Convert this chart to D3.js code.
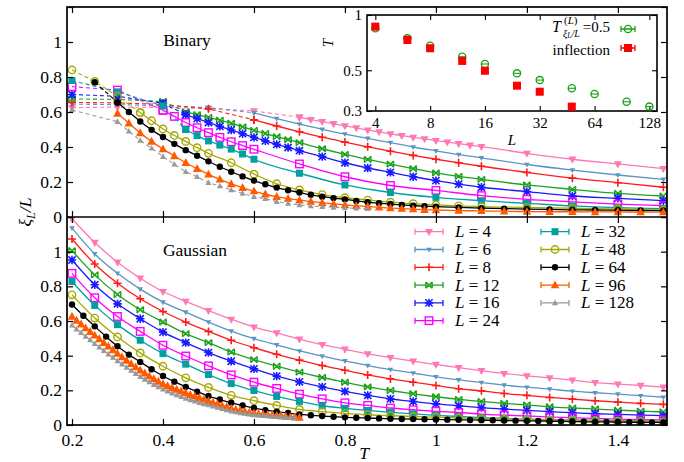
<!DOCTYPE html>
<html><head><meta charset="utf-8">
<script src="https://cdn.jsdelivr.net/npm/d3@7"></script>
<style>
body{margin:0;background:#fff}
svg, svg text, svg tspan{font-family:'Liberation Serif','Times New Roman',Times,serif}
</style>
</head><body>
<svg id="chart" width="684" height="462"></svg>
<script>
// ---------------- data ----------------
const sizes = [4, 6, 8, 12, 16, 24, 32, 48, 64, 96, 128];
const seriesColors = ["#ff78b4", "#5a96c3", "#ff1a1a", "#1fa31f", "#1a1aff", "#ff00ff", "#00a0a0", "#a8a800", "#000000", "#ff5a00", "#999999"];
const seriesMarkers = ["tdown", "tdownS", "plus", "cross", "star", "sqOpen", "sq", "ciOpen", "ci", "tup", "tupS"];

const xTicks = [0.2, 0.4, 0.6, 0.8, 1, 1.2, 1.4];
const yTicks = [0, 0.2, 0.4, 0.6, 0.8, 1, 1.2];

// Binary couplings: dashed (low T) part and solid part for each L
const binDashT_4 = [0.2, 0.3, 0.4, 0.5, 0.6, 0.7];
const binDashV_4 = [0.625, 0.628, 0.626, 0.62, 0.606, 0.57];
const binT_4 = [0.7, 0.725, 0.75, 0.775, 0.8, 0.825, 0.85, 0.875, 0.9, 0.925, 0.95, 0.975, 1.0, 1.025, 1.05, 1.075, 1.1, 1.2, 1.3, 1.4, 1.5];
const binV_4 = [0.57, 0.557, 0.545, 0.533, 0.521, 0.509, 0.497, 0.486, 0.475, 0.465, 0.455, 0.446, 0.437, 0.428, 0.419, 0.41, 0.402, 0.364, 0.33, 0.303, 0.276];

const binDashT_6 = [0.2, 0.3, 0.4, 0.5, 0.6];
const binDashV_6 = [0.645, 0.642, 0.636, 0.625, 0.595];
const binT_6 = [0.6, 0.65, 0.7, 0.75, 0.8, 0.85, 0.9, 0.95, 1.0, 1.05, 1.1, 1.2, 1.3, 1.4, 1.5];
const binV_6 = [0.595, 0.562, 0.531, 0.501, 0.474, 0.449, 0.425, 0.40, 0.378, 0.357, 0.338, 0.30, 0.268, 0.24, 0.215];

const binDashT_8 = [0.2, 0.3, 0.4, 0.5, 0.6];
const binDashV_8 = [0.655, 0.652, 0.643, 0.618, 0.555];
const binT_8 = [0.6, 0.65, 0.7, 0.75, 0.8, 0.85, 0.9, 0.95, 1.0, 1.05, 1.1, 1.2, 1.3, 1.4, 1.5];
const binV_8 = [0.555, 0.52, 0.487, 0.456, 0.428, 0.401, 0.376, 0.352, 0.33, 0.31, 0.29, 0.255, 0.222, 0.196, 0.17];

const binDashT_12 = [0.2, 0.3, 0.4, 0.45];
const binDashV_12 = [0.675, 0.672, 0.66, 0.60];
const binT_12 = [0.45, 0.475, 0.5, 0.525, 0.55, 0.575, 0.6, 0.625, 0.65, 0.675, 0.7, 0.75, 0.8, 0.85, 0.9, 0.95, 1.0, 1.05, 1.1, 1.2, 1.3, 1.4, 1.5];
const binV_12 = [0.60, 0.585, 0.569, 0.553, 0.536, 0.515, 0.495, 0.477, 0.459, 0.442, 0.425, 0.39, 0.358, 0.329, 0.302, 0.276, 0.252, 0.232, 0.215, 0.183, 0.158, 0.135, 0.12];

const binDashT_16 = [0.2, 0.3, 0.4, 0.45];
const binDashV_16 = [0.70, 0.69, 0.65, 0.585];
const binT_16 = [0.45, 0.475, 0.5, 0.525, 0.55, 0.575, 0.6, 0.625, 0.65, 0.675, 0.7, 0.75, 0.8, 0.85, 0.9, 0.95, 1.0, 1.05, 1.1, 1.2, 1.3, 1.4, 1.5];
const binV_16 = [0.585, 0.562, 0.54, 0.518, 0.497, 0.476, 0.455, 0.435, 0.415, 0.397, 0.379, 0.345, 0.31, 0.28, 0.255, 0.23, 0.208, 0.188, 0.17, 0.145, 0.12, 0.107, 0.093];

const binDashT_24 = [0.2, 0.3, 0.4];
const binDashV_24 = [0.745, 0.725, 0.61];
const binT_24 = [0.4, 0.425, 0.45, 0.475, 0.5, 0.525, 0.55, 0.575, 0.6, 0.7, 0.8, 0.9, 1.0, 1.1, 1.2, 1.3, 1.4, 1.5];
const binV_24 = [0.61, 0.575, 0.54, 0.51, 0.482, 0.455, 0.43, 0.408, 0.387, 0.303, 0.23, 0.18, 0.152, 0.122, 0.101, 0.087, 0.074, 0.065];

const binDashT_32 = [0.2, 0.3, 0.4, 0.45];
const binDashV_32 = [0.78, 0.715, 0.635, 0.50];
const binT_32 = [0.45, 0.475, 0.5, 0.525, 0.55, 0.575, 0.6, 0.7, 0.8, 0.9, 1.0, 1.1, 1.2, 1.3, 1.4, 1.5];
const binV_32 = [0.50, 0.465, 0.435, 0.411, 0.388, 0.36, 0.33, 0.25, 0.183, 0.14, 0.112, 0.093, 0.078, 0.063, 0.053, 0.048];

const binDashT_48 = [0.2, 0.25, 0.3, 0.35];
const binDashV_48 = [0.84, 0.775, 0.69, 0.596];
const binT_48 = [0.35, 0.375, 0.4, 0.425, 0.45, 0.475, 0.5, 0.55, 0.6, 0.65, 0.7, 0.75, 0.8, 0.85, 0.9, 0.95, 1.0, 1.05, 1.1, 1.2, 1.3, 1.4, 1.5];
const binV_48 = [0.596, 0.55, 0.503, 0.466, 0.432, 0.396, 0.364, 0.31, 0.245, 0.19, 0.155, 0.128, 0.11, 0.097, 0.085, 0.076, 0.069, 0.064, 0.059, 0.055, 0.05, 0.046, 0.04];

const binDashT_64 = [0.25, 0.3];
const binDashV_64 = [0.77, 0.655];
const binT_64 = [0.3, 0.325, 0.35, 0.375, 0.4, 0.425, 0.45, 0.475, 0.5, 0.525, 0.55, 0.575, 0.6, 0.625, 0.65, 0.675, 0.7, 0.725, 0.75, 0.775, 0.8, 0.825, 0.85, 0.875, 0.9, 0.925, 0.95, 0.975, 1.0, 1.05, 1.1, 1.15, 1.2, 1.25, 1.3, 1.35, 1.4, 1.45, 1.5];
const binV_64 = [0.655, 0.6, 0.546, 0.498, 0.457, 0.418, 0.382, 0.35, 0.318, 0.287, 0.259, 0.232, 0.208, 0.187, 0.168, 0.153, 0.14, 0.127, 0.116, 0.108, 0.101, 0.092, 0.084, 0.079, 0.074, 0.069, 0.065, 0.062, 0.059, 0.055, 0.051, 0.048, 0.045, 0.043, 0.041, 0.04, 0.039, 0.037, 0.036];

const binDashT_96 = [];
const binDashV_96 = [];
const binT_96 = [0.3, 0.325, 0.35, 0.375, 0.4, 0.425, 0.45, 0.475, 0.5, 0.525, 0.55, 0.575, 0.6, 0.625, 0.65, 0.675, 0.7, 0.725, 0.75, 0.775, 0.8, 0.825, 0.85, 0.875, 0.9, 0.925, 0.95, 0.975, 1.0, 1.05, 1.1, 1.15, 1.2, 1.25, 1.3, 1.35, 1.4, 1.45, 1.5];
const binV_96 = [0.592, 0.536, 0.48, 0.432, 0.388, 0.349, 0.31, 0.276, 0.244, 0.215, 0.189, 0.167, 0.148, 0.13, 0.116, 0.105, 0.096, 0.089, 0.082, 0.075, 0.069, 0.064, 0.06, 0.055, 0.051, 0.048, 0.045, 0.042, 0.04, 0.037, 0.035, 0.033, 0.031, 0.03, 0.03, 0.029, 0.029, 0.028, 0.028];

const binDashT_128 = [0.2, 0.3, 0.325, 0.35, 0.375, 0.4, 0.425, 0.45, 0.475, 0.5, 0.525, 0.55, 0.575, 0.6, 0.625, 0.65, 0.675, 0.7, 0.725, 0.75, 0.775, 0.8, 0.825, 0.85];
const binDashV_128 = [0.611, 0.545, 0.49, 0.437, 0.393, 0.345, 0.301, 0.259, 0.23, 0.196, 0.177, 0.154, 0.135, 0.116, 0.105, 0.088, 0.078, 0.069, 0.063, 0.059, 0.055, 0.052, 0.05, 0.048];
const binT_128 = [];
const binV_128 = [];

// Gaussian couplings
const gaussT = [0.2, 0.25, 0.3, 0.35, 0.4, 0.45, 0.5, 0.55, 0.6, 0.65, 0.7, 0.75, 0.8, 0.85, 0.9, 0.95, 1.0, 1.05, 1.1, 1.15, 1.2, 1.25, 1.3, 1.35, 1.4, 1.45, 1.5];
const gaussT_64 = [0.2, 0.225, 0.25, 0.275, 0.3, 0.325, 0.35, 0.375, 0.4, 0.425, 0.45, 0.475, 0.5, 0.525, 0.55, 0.575, 0.6, 0.625, 0.65, 0.675, 0.7, 0.725, 0.75, 0.775, 0.8, 0.825, 0.85, 0.875, 0.9, 0.925, 0.95, 0.975, 1.0, 1.025, 1.05, 1.075, 1.1, 1.125, 1.15, 1.175, 1.2, 1.225, 1.25, 1.275, 1.3, 1.325, 1.35, 1.375, 1.4, 1.425, 1.45, 1.475, 1.5];
const gaussT_fine = [0.20, 0.21, 0.22, 0.23, 0.24, 0.25, 0.26, 0.27, 0.28, 0.29, 0.30, 0.31, 0.32, 0.33, 0.34, 0.35, 0.36, 0.37, 0.38, 0.39, 0.40, 0.41, 0.42, 0.43, 0.44, 0.45, 0.46, 0.47, 0.48, 0.49, 0.50, 0.51, 0.52, 0.53, 0.54, 0.55, 0.56, 0.57, 0.58, 0.59, 0.60, 0.61, 0.62, 0.63, 0.64, 0.65, 0.66, 0.67, 0.68, 0.69, 0.70];

const gaussV_4 = [1.19, 1.053, 0.939, 0.847, 0.770, 0.713, 0.66, 0.61, 0.565, 0.531, 0.496, 0.464, 0.437, 0.41, 0.389, 0.368, 0.349, 0.331, 0.314, 0.297, 0.284, 0.272, 0.259, 0.245, 0.236, 0.228, 0.218];
const gaussV_6 = [1.136, 0.987, 0.875, 0.784, 0.709, 0.651, 0.594, 0.542, 0.498, 0.462, 0.427, 0.397, 0.37, 0.343, 0.32, 0.30, 0.278, 0.26, 0.245, 0.23, 0.218, 0.207, 0.195, 0.186, 0.178, 0.169, 0.16];
const gaussV_8 = [1.073, 0.929, 0.818, 0.728, 0.655, 0.594, 0.54, 0.489, 0.446, 0.408, 0.374, 0.343, 0.316, 0.289, 0.266, 0.247, 0.228, 0.209, 0.197, 0.182, 0.171, 0.159, 0.149, 0.14, 0.132, 0.125, 0.119];
const gaussV_12 = [1.006, 0.866, 0.753, 0.665, 0.594, 0.527, 0.475, 0.421, 0.377, 0.339, 0.305, 0.274, 0.247, 0.22, 0.199, 0.18, 0.163, 0.148, 0.136, 0.125, 0.115, 0.105, 0.098, 0.092, 0.086, 0.08, 0.075];
const gaussV_16 = [0.952, 0.809, 0.699, 0.613, 0.536, 0.475, 0.418, 0.368, 0.324, 0.282, 0.249, 0.22, 0.194, 0.171, 0.151, 0.136, 0.122, 0.111, 0.10, 0.092, 0.084, 0.077, 0.071, 0.065, 0.061, 0.057, 0.054];
const gaussV_24 = [0.875, 0.734, 0.626, 0.54, 0.46, 0.398, 0.341, 0.289, 0.247, 0.211, 0.178, 0.151, 0.128, 0.113, 0.098, 0.088, 0.079, 0.072, 0.063, 0.057, 0.052, 0.046, 0.042, 0.038, 0.034, 0.031, 0.029];
const gaussV_32 = [0.828, 0.69, 0.579, 0.489, 0.412, 0.351, 0.291, 0.239, 0.199, 0.165, 0.136, 0.111, 0.096, 0.084, 0.073, 0.064, 0.056, 0.049, 0.043, 0.038, 0.034, 0.031, 0.029, 0.027, 0.025, 0.023, 0.021];
const gaussV_48 = [0.751, 0.617, 0.508, 0.416, 0.339, 0.272, 0.217, 0.171, 0.14, 0.113, 0.09, 0.077, 0.067, 0.059, 0.054, 0.049, 0.045, 0.041, 0.037, 0.034, 0.031, 0.029, 0.027, 0.025, 0.023, 0.021, 0.02];
const gaussV_64 = [0.695, 0.63, 0.569, 0.51, 0.454, 0.406, 0.364, 0.322, 0.283, 0.25, 0.22, 0.192, 0.167, 0.147, 0.128, 0.113, 0.098, 0.086, 0.077, 0.069, 0.061, 0.056, 0.052, 0.048, 0.044, 0.042, 0.04, 0.038, 0.036, 0.035, 0.034, 0.033, 0.032, 0.031, 0.03, 0.029, 0.028, 0.027, 0.026, 0.025, 0.024, 0.023, 0.022, 0.021, 0.02, 0.019, 0.018, 0.018, 0.017, 0.016, 0.016, 0.015, 0.015];
const gaussV_96 = [0.626, 0.603, 0.581, 0.559, 0.538, 0.517, 0.496, 0.475, 0.454, 0.433, 0.412, 0.392, 0.372, 0.353, 0.334, 0.316, 0.299, 0.282, 0.266, 0.251, 0.237, 0.226, 0.215, 0.205, 0.195, 0.185, 0.175, 0.166, 0.157, 0.148, 0.139, 0.130, 0.121, 0.112, 0.104, 0.096, 0.090, 0.084, 0.078, 0.072, 0.068, 0.065, 0.062, 0.059, 0.056, 0.054, 0.052, 0.049, 0.047, 0.045, 0.043];
const gaussV_128 = [0.575, 0.553, 0.532, 0.511, 0.490, 0.469, 0.449, 0.429, 0.409, 0.389, 0.370, 0.351, 0.332, 0.314, 0.296, 0.279, 0.263, 0.248, 0.233, 0.219, 0.206, 0.195, 0.184, 0.173, 0.163, 0.153, 0.145, 0.137, 0.129, 0.122, 0.115, 0.108, 0.101, 0.094, 0.087, 0.080, 0.075, 0.070, 0.066, 0.062, 0.058, 0.056, 0.054, 0.052, 0.050, 0.048, 0.046, 0.044, 0.042, 0.040];

// Inset: characteristic temperatures vs L
const insetL = [4, 6, 8, 12, 16, 24, 32, 48, 64, 96, 128];
const insetHalfT = [0.846, 0.746, 0.68, 0.593, 0.541, 0.481, 0.442, 0.399, 0.371, 0.337, 0.317];
const insetInflL = [4, 6, 8, 12, 16, 24, 32, 48];
const insetInflT = [0.864, 0.731, 0.659, 0.562, 0.497, 0.412, 0.382, 0.317];
const insetXTicks = [4, 8, 16, 32, 64, 128];
const insetYTicks = [0.3, 0.5, 1];

// ---------------- drawing ----------------
const svg = d3.select("#chart");
const FONT = 17.5;
const SERIF = "'Liberation Serif', 'Times New Roman', serif";

const x = d3.scaleLinear().domain([0.189, 1.508]).range([67, 667]);
const yTop = d3.scaleLinear().domain([0, 1.2]).range([217, 7]);
const yBot = d3.scaleLinear().domain([0, 1.2]).range([425, 217]);

const defs = svg.append("defs");
defs.append("clipPath").attr("id", "clipTop").append("rect").attr("x", 67).attr("y", 7).attr("width", 600).attr("height", 210);
defs.append("clipPath").attr("id", "clipBot").append("rect").attr("x", 67).attr("y", 217).attr("width", 600).attr("height", 208);

function tri(px, py, s, down) {
  const a = down ? -0.33 : 0.38, b = down ? 0.55 : -0.55;
  return `M${px - s / 2},${py + s * a}L${px + s / 2},${py + s * a}L${px},${py + s * b}Z`;
}
function drawMarker(g, type, px, py, color) {
  switch (type) {
    case "tdown": g.append("path").attr("d", tri(px, py, 8, true)).attr("fill", color); break;
    case "tdownS": g.append("path").attr("d", tri(px, py, 5.5, true)).attr("fill", color); break;
    case "tup": g.append("path").attr("d", tri(px, py, 8.5, false)).attr("fill", color); break;
    case "tupS": g.append("path").attr("d", tri(px, py, 6, false)).attr("fill", color); break;
    case "plus": {
      const r = 4;
      g.append("path").attr("d", `M${px - r},${py}H${px + r}M${px},${py - r}V${py + r}`).attr("stroke", color).attr("stroke-width", 1.6).attr("fill", "none");
      break;
    }
    case "cross": {
      const r = 3.2;
      g.append("path").attr("d", `M${px - r},${py - r}L${px + r},${py + r}M${px - r},${py + r}L${px + r},${py - r}M${px - r},${py - r}V${py + r}M${px + r},${py - r}V${py + r}`).attr("stroke", color).attr("stroke-width", 1.4).attr("fill", "none");
      break;
    }
    case "star": {
      const r = 3.6;
      g.append("path").attr("d", `M${px - r},${py - r}L${px + r},${py + r}M${px - r},${py + r}L${px + r},${py - r}M${px - r - 0.6},${py}H${px + r + 0.6}M${px},${py - r - 0.6}V${py + r + 0.6}`).attr("stroke", color).attr("stroke-width", 1.6).attr("fill", "none");
      break;
    }
    case "sqOpen": {
      const s = 7.5;
      g.append("rect").attr("x", px - s / 2).attr("y", py - s / 2).attr("width", s).attr("height", s).attr("fill", "none").attr("stroke", color).attr("stroke-width", 1.4);
      break;
    }
    case "sq": {
      const s = 7;
      g.append("rect").attr("x", px - s / 2).attr("y", py - s / 2).attr("width", s).attr("height", s).attr("fill", color);
      break;
    }
    case "ciOpen":
      g.append("circle").attr("cx", px).attr("cy", py).attr("r", 3.7).attr("fill", "none").attr("stroke", color).attr("stroke-width", 1.4);
      break;
    case "ci":
      g.append("circle").attr("cx", px).attr("cy", py).attr("r", 3.2).attr("fill", color);
      break;
  }
}

function drawSeries(g, T, V, yScale, color, marker, dashed) {
  if (!T.length) return;
  const pts = T.map((t, i) => [t, V[i]]);
  const line = d3.line().x(d => x(d[0])).y(d => yScale(d[1])).curve(dashed ? d3.curveLinear : d3.curveMonotoneX);
  g.append("path").attr("d", line(pts)).attr("fill", "none").attr("stroke", color)
    .attr("stroke-width", dashed ? 1.1 : 1.3).attr("stroke-dasharray", dashed ? "4,3" : null);
  pts.forEach(p => drawMarker(g, marker, x(p[0]), yScale(p[1]), color));
}

// Binary panel
const gTop = svg.append("g").attr("clip-path", "url(#clipTop)");
const binSets = [
  [binDashT_4, binDashV_4, binT_4, binV_4],
  [binDashT_6, binDashV_6, binT_6, binV_6],
  [binDashT_8, binDashV_8, binT_8, binV_8],
  [binDashT_12, binDashV_12, binT_12, binV_12],
  [binDashT_16, binDashV_16, binT_16, binV_16],
  [binDashT_24, binDashV_24, binT_24, binV_24],
  [binDashT_32, binDashV_32, binT_32, binV_32],
  [binDashT_48, binDashV_48, binT_48, binV_48],
  [binDashT_64, binDashV_64, binT_64, binV_64],
  [binDashT_96, binDashV_96, binT_96, binV_96],
  [binDashT_128, binDashV_128, binT_128, binV_128]
];
binSets.forEach((s, i) => {
  const g = gTop.append("g");
  drawSeries(g, s[0], s[1], yTop, seriesColors[i], seriesMarkers[i], true);
  drawSeries(g, s[2], s[3], yTop, seriesColors[i], seriesMarkers[i], false);
});

// Gaussian panel
const gBot = svg.append("g").attr("clip-path", "url(#clipBot)");
const gaussSets = [
  [gaussT, gaussV_4], [gaussT, gaussV_6], [gaussT, gaussV_8], [gaussT, gaussV_12],
  [gaussT, gaussV_16], [gaussT, gaussV_24], [gaussT, gaussV_32], [gaussT, gaussV_48],
  [gaussT_64, gaussV_64], [gaussT_fine, gaussV_96], [gaussT_fine.slice(0, gaussV_128.length), gaussV_128]
];
gaussSets.forEach((s, i) => {
  drawSeries(gBot.append("g"), s[0], s[1], yBot, seriesColors[i], seriesMarkers[i], false);
});

// Axes and frame
function styleAxis(g) {
  g.select(".domain").remove();
  g.attr("font-family", SERIF).attr("font-size", FONT);
  g.selectAll("line").attr("stroke", "#000").attr("stroke-width", 1.2);
  g.selectAll("text").attr("fill", "#000").attr("font-family", SERIF);
}
const fmt = v => String(+v.toFixed(1));
svg.append("g").attr("transform", "translate(67,0)")
  .call(d3.axisLeft(yTop).tickValues(yTicks).tickSize(-6).tickPadding(5).tickFormat(v => v === 1.2 ? "" : fmt(v))).call(styleAxis);
svg.append("g").attr("transform", "translate(67,0)")
  .call(d3.axisLeft(yBot).tickValues(yTicks).tickSize(-6).tickPadding(5).tickFormat(v => v >= 1.2 ? "" : fmt(v))).call(styleAxis);
svg.append("g").attr("transform", "translate(667,0)")
  .call(d3.axisRight(yTop).tickValues(yTicks).tickSize(-6).tickFormat("")).call(styleAxis);
svg.append("g").attr("transform", "translate(667,0)")
  .call(d3.axisRight(yBot).tickValues(yTicks).tickSize(-6).tickFormat("")).call(styleAxis);
svg.append("g").attr("transform", "translate(0,425)")
  .call(d3.axisBottom(x).tickValues(xTicks).tickSize(-6).tickPadding(9).tickFormat(fmt)).call(styleAxis);
svg.append("g").attr("transform", "translate(0,7)")
  .call(d3.axisTop(x).tickValues(xTicks).tickSize(-6).tickFormat("")).call(styleAxis);
svg.append("g").attr("transform", "translate(0,217)")
  .call(d3.axisTop(x).tickValues(xTicks).tickSize(6).tickFormat("")).call(styleAxis);
svg.append("g").attr("transform", "translate(0,217)")
  .call(d3.axisBottom(x).tickValues(xTicks).tickSize(6).tickFormat("")).call(styleAxis);

svg.append("rect").attr("x", 67).attr("y", 7).attr("width", 600).attr("height", 418)
  .attr("fill", "none").attr("stroke", "#000").attr("stroke-width", 1.7);
svg.append("line").attr("x1", 67).attr("x2", 667).attr("y1", 217).attr("y2", 217)
  .attr("stroke", "#000").attr("stroke-width", 1.7);

function txt(parent) {
  return parent.append("text").attr("font-family", SERIF).attr("fill", "#000");
}

// Panel titles
txt(svg).attr("x", 187).attr("y", 46).attr("text-anchor", "middle").attr("font-size", FONT).text("Binary");
txt(svg).attr("x", 195).attr("y", 256).attr("text-anchor", "middle").attr("font-size", FONT).text("Gaussian");

// Axis titles
const yl = txt(svg).attr("transform", "translate(31,212) rotate(-90)").attr("text-anchor", "middle").attr("font-size", FONT);
yl.append("tspan").attr("font-style", "italic").text("ξ");
yl.append("tspan").attr("font-style", "italic").attr("font-size", 12).attr("dy", 4).text("L");
yl.append("tspan").attr("font-style", "italic").attr("dy", -4).text("/L");
txt(svg).attr("x", 364).attr("y", 459).attr("text-anchor", "middle").attr("font-size", FONT).attr("font-style", "italic").text("T");

// Legend
function legendItem(xs, yc, i) {
  const g = svg.append("g");
  const c = seriesColors[i];
  g.append("path").attr("d", `M${xs},${yc}H${xs + 28}M${xs},${yc - 3}V${yc + 3}M${xs + 28},${yc - 3}V${yc + 3}`)
    .attr("stroke", c).attr("stroke-width", 1.3).attr("fill", "none");
  drawMarker(g, seriesMarkers[i], xs + 14, yc, c);
  const t = txt(g).attr("x", xs + 40).attr("y", yc + 5.5).attr("font-size", 17);
  t.append("tspan").attr("font-style", "italic").text("L");
  t.append("tspan").text(" = " + sizes[i]);
}
sizes.forEach((L, i) => {
  if (i < 6) legendItem(415, 231.7 + 17.8 * i, i);
  else legendItem(541, 231.7 + 17.8 * (i - 6), i);
});

// Inset
const xi = d3.scaleLog().base(2).domain([3.6, 141]).range([367, 657]);
const yi = d3.scaleLog().domain([0.3, 1]).range([111, 15]);
const gi = svg.append("g");
gi.append("rect").attr("x", 367).attr("y", 15).attr("width", 290).attr("height", 96).attr("fill", "#fff");
const IF = 15;
function styleInset(g) {
  g.select(".domain").remove();
  g.attr("font-family", SERIF).attr("font-size", IF);
  g.selectAll("line").attr("stroke", "#000").attr("stroke-width", 1.1);
  g.selectAll("text").attr("font-family", SERIF);
}
gi.append("g").attr("transform", "translate(0,111)")
  .call(d3.axisBottom(xi).tickValues(insetXTicks).tickSize(-5).tickPadding(6).tickFormat(d => String(d))).call(styleInset);
gi.append("g").attr("transform", "translate(0,15)")
  .call(d3.axisTop(xi).tickValues(insetXTicks).tickSize(-5).tickFormat("")).call(styleInset);
gi.append("g").attr("transform", "translate(367,0)")
  .call(d3.axisLeft(yi).tickValues(insetYTicks).tickSize(-5).tickPadding(5).tickFormat(d => String(d))).call(styleInset);
gi.append("g").attr("transform", "translate(657,0)")
  .call(d3.axisRight(yi).tickValues(insetYTicks).tickSize(-5).tickFormat("")).call(styleInset);
gi.append("rect").attr("x", 367).attr("y", 15).attr("width", 290).attr("height", 96)
  .attr("fill", "none").attr("stroke", "#000").attr("stroke-width", 1.6);

const green = "#1aa01a", red = "#ff0000";
insetL.forEach((L, i) => {
  const px = xi(L), py = yi(insetHalfT[i]);
  gi.append("circle").attr("cx", px).attr("cy", py).attr("r", 3.6).attr("fill", "none").attr("stroke", green).attr("stroke-width", 1.3);
  gi.append("line").attr("x1", px - 3.6).attr("x2", px + 3.6).attr("y1", py).attr("y2", py).attr("stroke", green).attr("stroke-width", 1.1);
});
insetInflL.forEach((L, i) => {
  gi.append("rect").attr("x", xi(L) - 4).attr("y", yi(insetInflT[i]) - 4).attr("width", 8).attr("height", 8).attr("fill", red);
});

// inset axis titles
txt(gi).attr("transform", "translate(333,43) rotate(-90)").attr("text-anchor", "middle")
  .attr("font-size", IF).attr("font-style", "italic").text("T");
txt(gi).attr("x", 512).attr("y", 145).attr("text-anchor", "middle")
  .attr("font-size", IF).attr("font-style", "italic").text("L");

// inset legend
const lt = gi.append("g");
txt(lt).attr("x", 552).attr("y", 32).attr("font-size", IF + 1).attr("font-style", "italic").text("T");
const sup = txt(lt).attr("x", 564).attr("y", 24).attr("font-size", 11);
sup.append("tspan").text("(");
sup.append("tspan").attr("font-style", "italic").text("L");
sup.append("tspan").text(")");
const sub = txt(lt).attr("x", 563).attr("y", 36.5).attr("font-size", 10).attr("font-style", "italic");
sub.append("tspan").text("ξ");
sub.append("tspan").attr("font-size", 7.5).attr("dy", 1.5).text("L");
sub.append("tspan").attr("dy", -1.5).text("/L");
txt(lt).attr("x", 610).attr("y", 32).attr("text-anchor", "end").attr("font-size", IF).text("=0.5");
txt(lt).attr("x", 610).attr("y", 54.5).attr("text-anchor", "end").attr("font-size", IF).text("inflection");
function errSym(cx, cy, color) {
  lt.append("path").attr("d", `M${cx - 7},${cy}H${cx + 7}M${cx - 7},${cy - 3}V${cy + 3}M${cx + 7},${cy - 3}V${cy + 3}`)
    .attr("stroke", color).attr("stroke-width", 1.3).attr("fill", "none");
}
errSym(628, 29, green);
lt.append("circle").attr("cx", 628).attr("cy", 29).attr("r", 3.6).attr("fill", "none").attr("stroke", green).attr("stroke-width", 1.3);
errSym(628, 48, red);
lt.append("rect").attr("x", 624).attr("y", 44).attr("width", 8).attr("height", 8).attr("fill", red);
</script>
</body></html>
